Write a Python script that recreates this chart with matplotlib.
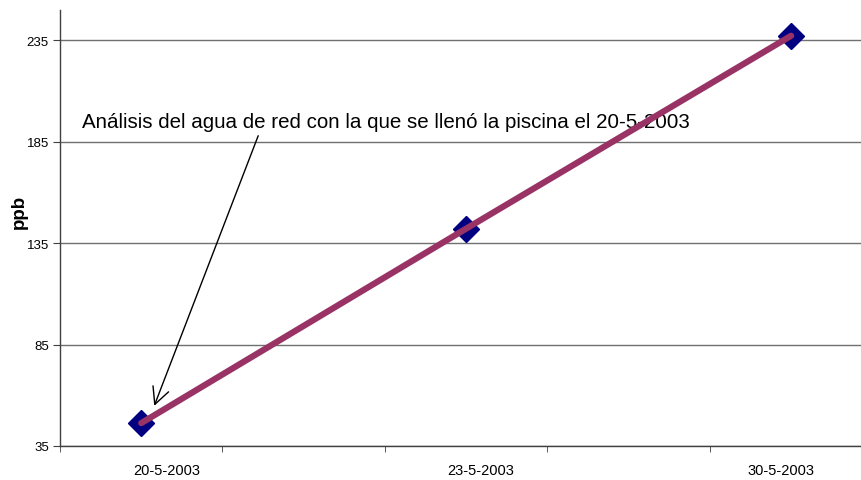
import matplotlib
matplotlib.use("Agg")
import matplotlib.pyplot as plt
from matplotlib.ticker import FixedLocator

# Data
dates = ["20-5-2003", "23-5-2003", "30-5-2003"]
x_pos = [0, 2, 4]
values = [46.3, 142.2, 237.3]
yticks = [35, 85, 135, 185, 235]
annotation = "Análisis del agua de red con la que se llenó la piscina el 20-5-2003"

plt.rcParams['font.family'] = ['Liberation Sans', 'DejaVu Sans']

fig = plt.figure(figsize=(8.61, 4.81), dpi=100)
ax = fig.add_axes([60/861, 1 - 447/481, 801/861, 436/481])

ax.plot(x_pos, values, linestyle='none', marker='D', markersize=13,
        markerfacecolor='#000080', markeredgecolor='#000080', zorder=3, clip_on=False)
ax.plot(x_pos, values, color='#993366', linewidth=4.5, zorder=4,
        solid_capstyle='round', clip_on=False)

ax.set_xlim(-0.5, 4.43)
ax.set_ylim(35, 250)
ax.set_yticks(yticks)
ax.set_yticklabels([str(v) for v in yticks], fontsize=9.5)
ax.yaxis.grid(True, color='#707070', linewidth=1)
ax.set_axisbelow(True)

# x category boundaries as minor ticks, labels offset
ax.xaxis.set_minor_locator(FixedLocator([-0.5, 0.5, 1.5, 2.5, 3.5]))
ax.set_xticks([x + off for x, off in zip(x_pos, [0.16, 0.09, -0.06])])
ax.set_xticklabels(dates, fontsize=10.5)
ax.tick_params(axis='x', which='major', length=0, pad=12)
ax.tick_params(axis='x', which='minor', length=4, color='#404040', direction='out')
ax.tick_params(axis='y', length=5, color='#404040', direction='out', pad=3)

for s in ['top', 'right']:
    ax.spines[s].set_visible(False)
for s in ['left', 'bottom']:
    ax.spines[s].set_color('#404040')
    ax.spines[s].set_linewidth(1)

ax.set_ylabel("ppb", fontsize=13.5, fontweight='bold')
ax.yaxis.set_label_coords(-(60 - 28) / 801, (447 - 212) / 436)

ax.annotate("", xy=(0.08, 54.8), xytext=(0.72, 188),
            arrowprops=dict(arrowstyle='->', color='black', lw=1,
                            shrinkA=0, shrinkB=0, mutation_scale=30),
            annotation_clip=False)
ax.text(-0.363, 195, annotation, fontsize=14.8, ha='left', va='center')

fig.savefig("out.png", dpi=100)
